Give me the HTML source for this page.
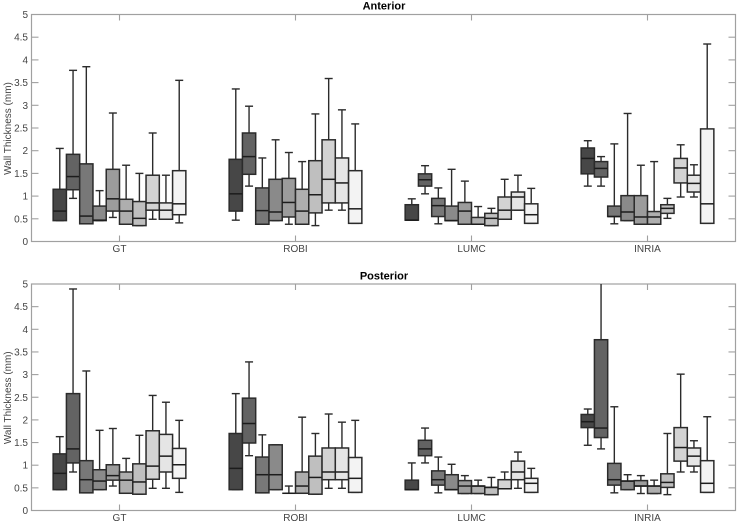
<!DOCTYPE html>
<html>
<head>
<meta charset="utf-8">
<title>Wall Thickness Boxplots</title>
<style>
html,body{margin:0;padding:0;background:#fff;width:740px;height:524px;overflow:hidden}
svg{display:block;filter:blur(0.3px)}
text{font-family:"Liberation Sans",sans-serif}
</style>
</head>
<body>
<svg id="chart" width="740" height="524" viewBox="0 0 740 524" xmlns="http://www.w3.org/2000/svg"></svg>
<script>
// Each box: [lower whisker, q1, median, q3, upper whisker]
const categories = ['GT', 'ROBI', 'LUMC', 'INRIA'];
const yTickLabels = ['0', '0.5', '1', '1.5', '2', '2.5', '3', '3.5', '4', '4.5', '5'];
const yTickValues = [0, 0.5, 1, 1.5, 2, 2.5, 3, 3.5, 4, 4.5, 5];
const boxFills = ['#474747', '#636363', '#787878', '#8a8a8a', '#9c9c9c', '#aeaeae', '#bfbfbf', '#d3d3d3', '#e5e5e5', '#f3f3f3'];

const anteriorGT = [[.46,.46,.67,1.15,2.05],[.95,1.14,1.43,1.92,3.77],[.39,.39,.56,1.71,3.85],[.46,.46,.47,.78,1.12],[.53,.67,.94,1.59,2.83],[.38,.38,.67,.93,1.68],[.35,.35,.51,.88,1.5],[.49,.69,.85,1.46,2.39],[.49,.49,.69,.85,1.46],[.41,.59,.83,1.56,3.55]];
const anteriorROBI = [[.47,.67,1.05,1.81,3.36],[1.22,1.48,1.87,2.39,2.98],[.38,.38,.68,1.18,1.84],[.46,.46,.65,1.37,2.24],[.38,.54,.86,1.39,1.96],[.38,.38,.67,1.15,1.76],[.35,.63,1.03,1.78,2.81],[.69,.85,1.37,2.24,3.59],[.69,.85,1.29,1.84,2.9],[.4,.4,.72,1.56,2.59]];
const anteriorLUMC = [[.47,.47,.47,.81,.94],[1.05,1.22,1.36,1.49,1.67],[.39,.55,.79,.95,1.18],[.46,.46,.46,.78,1.59],[.38,.38,.67,.86,1.33],[.38,.38,.38,.53,.77],[.35,.35,.51,.62,.73],[.49,.49,.69,.98,1.37],[.69,.69,.98,1.09,1.46],[.4,.4,.59,.83,1.17]];
const anteriorINRIA = [[1.22,1.49,1.83,2.06,2.22],[1.22,1.42,1.61,1.76,1.87],[.39,.55,.55,.78,2.15],[.46,.46,.65,1.01,2.82],[.38,.38,.54,1.01,1.68],[.38,.38,.54,.66,1.76],[.51,.62,.73,.81,.95],[.98,1.29,1.62,1.83,2.13],[.98,1.09,1.28,1.46,1.69],[.4,.4,.83,2.48,4.35]];

const posteriorGT = [[.46,.46,.82,1.25,1.63],[.85,1.05,1.36,2.58,4.89],[.39,.39,.68,1.1,3.08],[.46,.46,.65,.9,1.77],[.54,.67,.77,1.01,1.81],[.38,.38,.67,.85,1.15],[.36,.36,.63,1.03,1.66],[.49,.69,.98,1.76,2.54],[.49,.85,1.2,1.68,2.39],[.4,.71,1.01,1.37,1.99]];
const posteriorROBI = [[.46,.46,.93,1.7,2.58],[1.21,1.49,1.92,2.48,3.28],[.39,.39,.79,1.18,1.67],[.46,.46,.79,1.45,1.45],[.38,.38,.38,.38,.54],[.38,.38,.54,.85,2.06],[.36,.36,.73,1.2,1.7],[.49,.68,.85,1.38,2.13],[.49,.68,.85,1.38,1.95],[.4,.4,.71,1.17,1.99]];
const posteriorLUMC = [[.46,.46,.46,.67,1.05],[1.05,1.21,1.36,1.55,1.82],[.39,.56,.68,.875,1.18],[.46,.46,.46,.79,1.02],[.375,.375,.54,.66,.77],[.375,.375,.54,.54,.67],[.35,.35,.51,.51,.73],[.48,.48,.48,.68,.85],[.49,.68,.85,1.09,1.29],[.4,.4,.6,.71,.93]];
const posteriorINRIA = [[1.44,1.83,1.96,2.12,2.24],[1.36,1.61,1.82,3.77,5.6],[.39,.56,.68,1.04,2.29],[.46,.46,.65,.65,.79],[.375,.54,.54,.66,.77],[.375,.375,.54,.54,.67],[.35,.51,.62,.81,1.7],[.85,1.09,1.39,1.83,3.01],[.85,.98,1.2,1.38,1.54],[.4,.4,.6,1.1,2.07]];

const svg = document.getElementById('chart');
const NS = 'http://www.w3.org/2000/svg';

function mk(parent, tag, attrs, txt) {
  const el = document.createElementNS(NS, tag);
  for (const k in attrs) el.setAttribute(k, attrs[k]);
  if (txt !== undefined) el.textContent = txt;
  parent.appendChild(el);
  return el;
}

const plotLeft = 31.5, plotRight = 735.5;
const xMin = 0.5, xMax = 4.5, yMin = 0, yMax = 5;
const boxSpan = 0.0754;

function xScale(v) {
  return plotLeft + (v - xMin) / (xMax - xMin) * (plotRight - plotLeft);
}

function drawPanel(panelKey, title, top, bottom, titleY, labelY, groups) {
  const yScale = v => bottom - (v - yMin) / (yMax - yMin) * (bottom - top);
  const axisColor = '#a0a0a0';

  const g = mk(svg, 'g', {});
  
  

  const clip = mk(g, 'clipPath', { id: panelKey + '-clip' });
  mk(clip, 'rect', { x: plotLeft, y: top, width: plotRight - plotLeft, height: bottom - top });

  const titleEl = mk(g, 'text', { x: 384, y: titleY, 'text-anchor': 'middle', 'font-size': '11', 'font-weight': 'bold', fill: '#000' }, title);
  
  

  const frame = mk(g, 'rect', { x: plotLeft, y: top, width: plotRight - plotLeft, height: bottom - top, fill: 'none', stroke: axisColor, 'stroke-width': 1.2 });
  
  

  yTickValues.forEach((v, i) => {
    const y = yScale(v);
    if (i > 0 && i < yTickValues.length - 1) {
      mk(g, 'line', { x1: plotLeft, x2: plotLeft + 7, y1: y, y2: y, stroke: axisColor, 'stroke-width': 1.1 });
      mk(g, 'line', { x1: plotRight - 7, x2: plotRight, y1: y, y2: y, stroke: axisColor, 'stroke-width': 1.1 });
    }
    const t = mk(g, 'text', { x: 28, y: y + 3.5, 'text-anchor': 'end', 'font-size': '10', fill: '#444' }, yTickLabels[i]);
    
    
  });

  const yMid = (top + bottom) / 2 + 0.5;
  const yTitle = mk(g, 'text', { x: 0, y: 0, transform: 'translate(11 ' + yMid + ') rotate(-90)', 'text-anchor': 'middle', 'font-size': '10', fill: '#444' }, 'Wall Thickness (mm)');
  
  

  categories.forEach((name, c) => {
    const cx = xScale(c + 1);
    mk(g, 'line', { x1: cx, x2: cx, y1: top, y2: top + 6, stroke: axisColor, 'stroke-width': 1.1 });
    mk(g, 'line', { x1: cx, x2: cx, y1: bottom - 6, y2: bottom, stroke: axisColor, 'stroke-width': 1.1 });
    const t = mk(g, 'text', { x: cx, y: labelY, 'text-anchor': 'middle', 'font-size': '10', fill: '#444' }, name);
    
    

    const marks = mk(g, 'g', { 'clip-path': 'url(#' + panelKey + '-clip)' });
    groups[c].forEach((box, b) => {
      const center = c + 1 + (b - 4.5) * boxSpan;
      const x = xScale(center);
      const x0 = xScale(center - boxSpan / 2);
      const x1 = xScale(center + boxSpan / 2);
      const capHalf = 4;
      const ink = '#2b2b2b';
      const item = mk(marks, 'g', {});
      
      
      const lo = yScale(box[0]), q1 = yScale(box[1]), med = yScale(box[2]), q3 = yScale(box[3]), hi = yScale(box[4]);
      mk(item, 'line', { x1: x, x2: x, y1: q3, y2: hi, stroke: ink, 'stroke-width': 1.4 });
      mk(item, 'line', { x1: x, x2: x, y1: q1, y2: lo, stroke: ink, 'stroke-width': 1.4 });
      mk(item, 'line', { x1: x - capHalf, x2: x + capHalf, y1: hi, y2: hi, stroke: ink, 'stroke-width': 1.4 });
      mk(item, 'line', { x1: x - capHalf, x2: x + capHalf, y1: lo, y2: lo, stroke: ink, 'stroke-width': 1.4 });
      mk(item, 'rect', { x: x0, y: q3, width: x1 - x0, height: q1 - q3, fill: boxFills[b], stroke: ink, 'stroke-width': 1.5 });
      mk(item, 'line', { x1: x0, x2: x1, y1: med, y2: med, stroke: '#1c1c1c', 'stroke-width': 1.5 });
    });
  });
}

drawPanel('anterior', 'Anterior', 14.5, 241.5, 9.5, 252, [anteriorGT, anteriorROBI, anteriorLUMC, anteriorINRIA]);
drawPanel('posterior', 'Posterior', 284, 510.5, 279.5, 521, [posteriorGT, posteriorROBI, posteriorLUMC, posteriorINRIA]);
</script>
</body>
</html>
